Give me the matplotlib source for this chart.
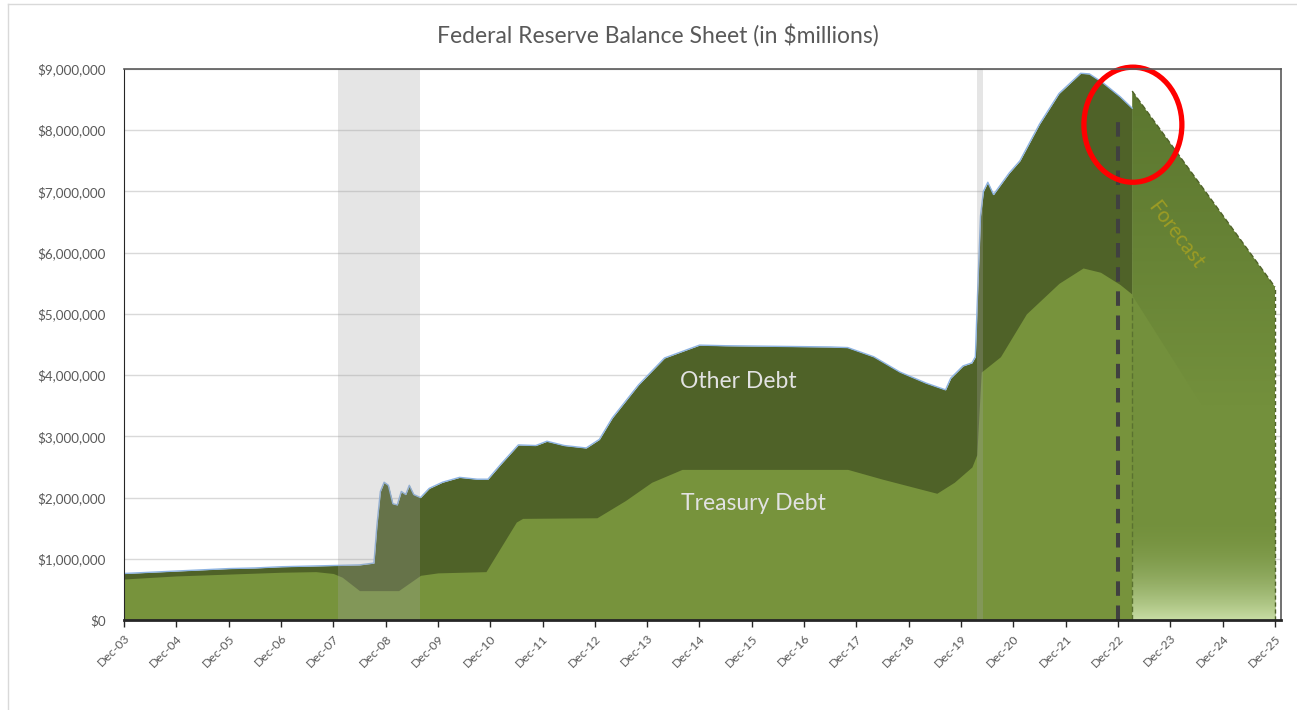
import matplotlib.pyplot as plt
import matplotlib.dates as mdates
import numpy as np
import pandas as pd
from matplotlib.patches import Ellipse
from matplotlib.colors import to_rgb
from matplotlib.ticker import FuncFormatter, MultipleLocator

plt.rcParams['font.family'] = ['Lato', 'DejaVu Sans']

# balance sheet, $ millions
total_dates = ['2003-12-01', '2004-06-01', '2004-12-01', '2005-06-01', '2005-12-01', '2006-06-01',
               '2006-12-01', '2007-06-01', '2007-12-01', '2008-06-01', '2008-09-10', '2008-10-01',
               '2008-10-25', '2008-11-20', '2008-12-20', '2009-01-20', '2009-02-20', '2009-03-20',
               '2009-04-20', '2009-05-15', '2009-06-15', '2009-08-01', '2009-10-01', '2010-01-01',
               '2010-05-01', '2010-09-01', '2010-11-15', '2011-02-15', '2011-06-15', '2011-10-15',
               '2012-01-01', '2012-05-01', '2012-10-01', '2013-01-01', '2013-04-01', '2013-10-01',
               '2014-04-01', '2014-12-01', '2015-06-01', '2016-06-01', '2017-06-01', '2017-10-01',
               '2018-04-01', '2018-10-01', '2019-04-01', '2019-08-15', '2019-09-20', '2019-12-15',
               '2020-02-15', '2020-03-10', '2020-03-25', '2020-04-15', '2020-05-05', '2020-06-05',
               '2020-07-15', '2020-11-01', '2021-01-15', '2021-06-01', '2021-10-15', '2022-03-15',
               '2022-05-15', '2022-08-15', '2022-12-15', '2023-03-10']
total_vals = [760000, 780000, 800000, 820000, 840000, 850000,
              870000, 880000, 890000, 900000, 930000, 1550000,
              2100000, 2250000, 2200000, 1900000, 1880000, 2100000,
              2050000, 2200000, 2050000, 2000000, 2150000, 2250000,
              2330000, 2300000, 2300000, 2550000, 2860000, 2850000,
              2920000, 2850000, 2810000, 2950000, 3300000, 3840000,
              4280000, 4490000, 4480000, 4470000, 4460000, 4450000,
              4300000, 4050000, 3870000, 3760000, 3950000, 4150000,
              4200000, 4300000, 5300000, 6600000, 7000000, 7150000,
              6950000, 7300000, 7500000, 8100000, 8600000, 8930000,
              8920000, 8780000, 8550000, 8360000]

treasury_dates = ['2003-12-01', '2004-12-01', '2005-12-01', '2006-12-01', '2007-08-01', '2007-12-01',
                  '2008-02-01', '2008-06-01', '2009-03-01', '2009-08-01', '2009-12-01', '2010-11-01',
                  '2011-06-01', '2011-07-15', '2012-12-15', '2013-07-01', '2014-01-01', '2014-08-01',
                  '2017-10-01', '2018-06-01', '2019-06-15', '2019-10-15', '2020-02-15', '2020-03-20',
                  '2020-04-20', '2020-09-01', '2021-03-01', '2021-10-15', '2022-04-01', '2022-08-01',
                  '2022-12-15', '2023-03-10']
treasury_vals = [670000, 720000, 750000, 780000, 790000, 760000,
                 700000, 480000, 480000, 730000, 770000, 790000,
                 1600000, 1660000, 1670000, 1950000, 2250000, 2460000,
                 2460000, 2300000, 2070000, 2250000, 2500000, 2700000,
                 4050000, 4300000, 5000000, 5500000, 5750000, 5680000,
                 5480000, 5320000]

fc_dates = ['2023-03-10', '2025-12-01']
fc_total = [8640000, 5440000]
fc_treas_dates = ['2023-03-10', '2024-05-01', '2025-12-01']
fc_treas = [5300000, 3760000, 1750000]

recessions = [('2008-01-01', '2009-08-01'), ('2020-03-20', '2020-05-05')]
cutoff = '2022-12-01'

dark = '#4f6228'
light = '#77933c'
fc_top = '#5b762f'
fc_light = '#73903c'


def vgrad(c_top, c_bot, alpha_top, alpha_bot, power=1.0):
    t = np.linspace(0, 1, 256)[:, None]
    g = np.zeros((256, 1, 4))
    g[..., :3] = (np.array(to_rgb(c_top)) * (1 - t) + np.array(to_rgb(c_bot)) * t)[:, None, :]
    g[..., 3] = alpha_top + (alpha_bot - alpha_top) * t ** power
    return g


td = pd.to_datetime(total_dates)
trd = pd.to_datetime(treasury_dates)
fd = pd.to_datetime(fc_dates)
ftd = pd.to_datetime(fc_treas_dates)

fig = plt.figure(figsize=(12.97, 7.10), dpi=100)
ax = fig.add_axes([124/1297, 90/710, (1281-124)/1297, (620-69)/710])

ax.fill_between(td, 0, total_vals, color=dark, lw=0, zorder=2)
ax.plot(td, total_vals, color='#8db3e2', lw=1, zorder=2.5)
ax.fill_between(trd, 0, treasury_vals, color=light, lw=0, zorder=3)

# forecast: darker at the top, blending into the treasury band lower down
fpoly = ax.fill_between(fd, 0, fc_total, color='none', lw=0, zorder=2)
x0, x1 = mdates.date2num(fd[0]), mdates.date2num(fd[-1])
im_top = ax.imshow(vgrad(fc_top, fc_light, 1, 1), extent=[x0, x1, 3500000, max(fc_total)],
                   aspect='auto', origin='upper', zorder=2.1)
im_top.set_clip_path(fpoly.get_paths()[0], transform=ax.transData)
ax.fill_between(fd, 0, 3500000, color=fc_light, lw=0, zorder=2.05)
ax.fill_between(ftd, 0, fc_treas, color=fc_light, lw=0, zorder=3)

# fade towards the bottom of the forecast
im = ax.imshow(vgrad(fc_light, '#c9dea6', 0, 1, 1.2), extent=[x0, x1, 0, 1750000],
               aspect='auto', origin='upper', zorder=4)
im.set_clip_path(fpoly.get_paths()[0], transform=ax.transData)

ax.plot(fd, fc_total, color=dark, lw=1, ls=(0, (4, 2)), zorder=5)
ax.plot([fd[-1], fd[-1]], [0, fc_total[-1]], color=dark, lw=1, ls=(0, (3, 2)), zorder=5)
ax.plot([fd[0], fd[0]], [0, fc_treas[0]], color='#5a7230', lw=1, ls=(0, (4, 2)), zorder=5)

for a, b in recessions:
    ax.axvspan(pd.Timestamp(a), pd.Timestamp(b), color='#a2a2a2', alpha=0.28, lw=0, zorder=6)

ax.plot([pd.Timestamp(cutoff)] * 2, [0, 8130000], color='#404040', lw=2.9,
        ls=(0, (3.6, 2.4)), zorder=7)

ell = Ellipse((mdates.date2num(pd.Timestamp('2023-03-15')), 8090000), width=684, height=1880000,
              fill=False, edgecolor='#ff0000', lw=3.8, zorder=8, clip_on=False)
ax.add_patch(ell)

ax.text(pd.Timestamp('2015-09-01'), 3900000, 'Other Debt', color='#e2e2e2', fontsize=16.5,
        ha='center', va='center', zorder=8)
ax.text(pd.Timestamp('2015-12-15'), 1900000, 'Treasury Debt', color='#e2e2e2', fontsize=16.5,
        ha='center', va='center', zorder=8)
ax.text(pd.Timestamp('2024-01-05'), 6290000, 'Forecast', color='#9c9c24', fontsize=15,
        rotation=-53, ha='center', va='center', zorder=8)

ax.set_ylim(0, 9000000)
ax.set_xlim(pd.Timestamp('2003-12-01'), pd.Timestamp('2026-01-12'))
ax.yaxis.set_major_locator(MultipleLocator(1000000))
ax.yaxis.set_major_formatter(FuncFormatter(lambda v, p: f"${v:,.0f}"))
ax.grid(axis='y', color='#d9d9d9', lw=1, zorder=0)
ax.set_axisbelow(True)

ticks = pd.to_datetime([f"{y}-12-01" for y in range(2003, 2026)])
ax.set_xticks(ticks)
ax.set_xticklabels([d.strftime('Dec-%y') for d in ticks], rotation=45, ha='right',
                   rotation_mode='anchor', fontsize=8.8, color='#595959')
ax.tick_params(axis='x', direction='out', length=5, width=1, color='#262626', pad=4)
ax.tick_params(axis='y', length=0, pad=13, labelsize=9.6, labelcolor='#595959')

for s in ['top', 'right']:
    ax.spines[s].set_color('#595959')
    ax.spines[s].set_linewidth(1.2)
ax.spines['left'].set_color('#262626')
ax.spines['bottom'].set_color('#262626')
ax.spines['bottom'].set_linewidth(2)
for s in ax.spines.values():
    s.set_zorder(9)

fig.text(658/1297, 1 - 35/710, 'Federal Reserve Balance Sheet (in $millions)', ha='center',
         va='center', fontsize=16.5, color='#595959')

# outer chart frame
fig.add_artist(plt.Line2D([8/1297, 8/1297], [0, 1 - 4/710], color='#d9d9d9', lw=1))
fig.add_artist(plt.Line2D([8/1297, 1], [1 - 4/710, 1 - 4/710], color='#d9d9d9', lw=1))

fig.savefig('out.png', dpi=100)
